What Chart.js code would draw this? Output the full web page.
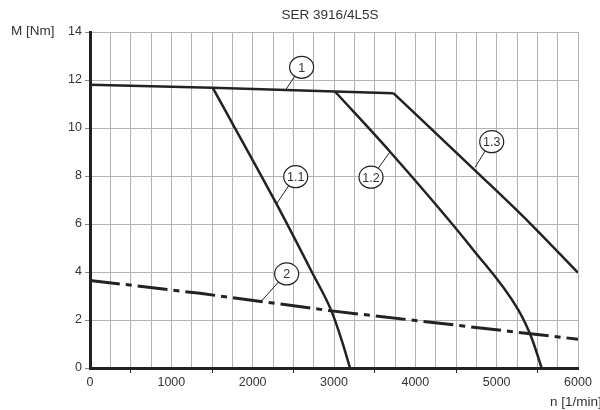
<!DOCTYPE html>
<html>
<head>
<meta charset="utf-8">
<script src="https://cdn.jsdelivr.net/npm/chart.js@4"></script>
<style>
  html, body { margin: 0; padding: 0; background: #fff; }
  #wrap { width: 600px; height: 410px; position: relative; }
</style>
</head>
<body>
<div id="wrap"><canvas id="motorChart"></canvas></div>
<script>
// curve values (n in 1/min, M in Nm)
const n1 = [0, 1508, 3012, 3730];
const m1 = [11.8, 11.68, 11.52, 11.45];
const n11 = [1508, 2275, 2726, 2972, 3100, 3197];
const m11 = [11.68, 6.95, 4.01, 2.35, 1.1, 0];
const n12 = [3012, 3689, 4713, 5266, 5430, 5553];
const m12 = [11.52, 9.01, 4.92, 2.42, 1.25, 0];
const n13 = [3730, 4795, 5410, 6000];
const m13 = [11.45, 8.04, 6.03, 3.97];
const n2 = [0, 1352, 2971, 6000];
const m2 = [3.65, 3.11, 2.38, 1.2];

// callout bubbles: text, bubble position, where the leader touches the curve
const calloutText = ['1', '1.1', '1.2', '1.3', '2'];
const calloutN = [2602, 2529, 3455, 4939, 2418];
const calloutM = [12.53, 7.97, 7.95, 9.43, 3.92];
const leaderN = [2410, 2295, 3689, 4734, 2111];
const leaderM = [11.61, 6.85, 9.01, 8.36, 2.8];

const xTicks = [0, 1000, 2000, 3000, 4000, 5000, 6000];
const yTicks = [0, 2, 4, 6, 8, 10, 12, 14];

const FONT = '"Liberation Sans", Arial, sans-serif';
const INK = '#222';

function toPoints(xs, ys) {
  return xs.map((x, i) => ({ x: x, y: ys[i] }));
}

function curve(xs, ys, opts) {
  opts = opts || {};
  return {
    data: toPoints(xs, ys),
    showLine: true,
    borderColor: INK,
    borderWidth: opts.dash ? 3 : 2.5,
    borderDash: opts.dash || [],
    borderJoinStyle: 'round',
    pointRadius: 0,
    cubicInterpolationMode: opts.smooth ? 'monotone' : 'default',
    tension: 0,
    fill: false
  };
}

// texts + callout bubbles
const extrasPlugin = {
  id: 'extras',
  afterDatasetsDraw(chart) {
    const ctx = chart.ctx;
    const xs = chart.scales.x, ys = chart.scales.y;
    ctx.save();
    ctx.font = '12.5px ' + FONT;
    for (let i = 0; i < calloutText.length; i++) {
      const cx = xs.getPixelForValue(calloutN[i]);
      const cy = ys.getPixelForValue(calloutM[i]);
      const tx = xs.getPixelForValue(leaderN[i]);
      const ty = ys.getPixelForValue(leaderM[i]);
      const rx = 12, ry = 11;
      const ang = Math.atan2(ty - cy, tx - cx);
      ctx.strokeStyle = INK;
      ctx.lineWidth = 1;
      ctx.beginPath();
      ctx.moveTo(cx + rx * Math.cos(ang), cy + ry * Math.sin(ang));
      ctx.lineTo(tx, ty);
      ctx.stroke();
      ctx.beginPath();
      ctx.ellipse(cx, cy, rx, ry, 0, 0, Math.PI * 2);
      ctx.fillStyle = '#fff';
      ctx.fill();
      ctx.lineWidth = 1.2;
      ctx.stroke();
      ctx.fillStyle = '#333';
      ctx.textAlign = 'center';
      ctx.textBaseline = 'middle';
      ctx.fillText(calloutText[i], cx, cy + 1);
    }

    ctx.fillStyle = '#333';
    ctx.font = '13.5px ' + FONT;
    ctx.textAlign = 'center';
    ctx.textBaseline = 'middle';
    ctx.fillText('SER 3916/4L5S', 330, 15);
    ctx.textAlign = 'left';
    ctx.fillText('M [Nm]', 11, 31);
    ctx.fillText('n [1/min]', 550, 402);
    ctx.restore();
  }
};

new Chart(document.getElementById('motorChart'), {
  type: 'scatter',
  data: {
    datasets: [
      curve(n1, m1),
      curve(n11, m11, { smooth: true }),
      curve(n12, m12, { smooth: true }),
      curve(n13, m13, { smooth: true }),
      curve(n2, m2, { dash: [30, 6, 6, 6] })
    ]
  },
  options: {
    responsive: true,
    maintainAspectRatio: false,
    animation: false,
    layout: { padding: { top: 32, right: 22, bottom: 0, left: 0 } },
    plugins: {
      legend: { display: false },
      tooltip: { enabled: false }
    },
    scales: {
      x: {
        type: 'linear',
        min: 0,
        max: 6000,
        afterFit: s => { s.height = 42; },
        afterBuildTicks: s => {
          const t = [];
          for (let v = 0; v <= 6000; v += 250) t.push({ value: v });
          s.ticks = t;
        },
        grid: {
          color: '#b3b3b3',
          lineWidth: 1,
          tickLength: 5,
          tickColor: c => (c.tick && c.tick.value % 500 === 0 && c.tick.value % 1000 !== 0) ? INK : 'rgba(0,0,0,0)'
        },
        border: { color: INK, width: 3 },
        ticks: {
          autoSkip: false,
          maxRotation: 0,
          padding: 2,
          color: '#333',
          font: { family: FONT, size: 12.5 },
          callback: v => xTicks.includes(v) ? String(v) : ''
        }
      },
      y: {
        type: 'linear',
        min: 0,
        max: 14,
        afterFit: s => { s.width = 90; },
        afterBuildTicks: s => { s.ticks = yTicks.map(v => ({ value: v })); },
        grid: {
          color: '#b3b3b3',
          lineWidth: 1,
          tickLength: 5,
          tickColor: '#888'
        },
        border: { color: INK, width: 3 },
        ticks: {
          padding: 3,
          color: '#333',
          font: { family: FONT, size: 12.5 }
        }
      }
    }
  },
  plugins: [extrasPlugin]
});
</script>
</body>
</html>
